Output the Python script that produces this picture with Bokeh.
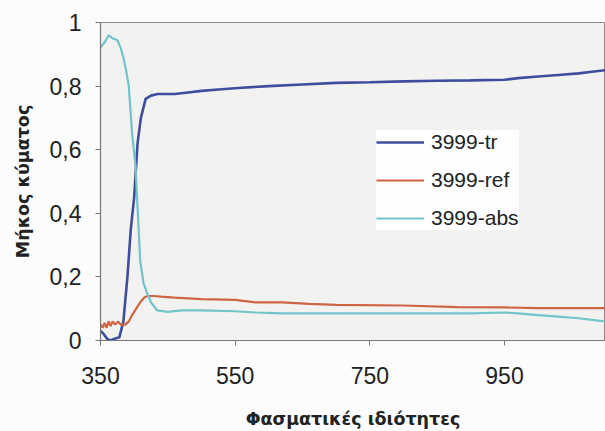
from bokeh.plotting import figure
from bokeh.models import FixedTicker, CustomJSTickFormatter, Legend, LegendItem, Range1d
from bokeh.embed import file_html
from bokeh.resources import INLINE

# ---- data ----
tr_x = [350, 355, 360, 365, 370, 378, 384, 390, 395, 400, 405, 410, 417, 425, 435, 460, 480, 500,
        530, 560, 600, 650, 700, 750, 800, 850, 900, 950, 970, 1000, 1030, 1060, 1080, 1100]
tr_y = [0.03, 0.02, 0.005, 0.0, 0.005, 0.01, 0.06, 0.2, 0.35, 0.45, 0.62, 0.7, 0.76, 0.77, 0.775,
        0.775, 0.78, 0.785, 0.79, 0.795, 0.80, 0.805, 0.81, 0.812, 0.815, 0.817, 0.818, 0.82,
        0.825, 0.83, 0.835, 0.84, 0.845, 0.85]

ref_x = [350, 353, 356, 359, 362, 365, 368, 372, 376, 380, 387, 392, 397, 403, 409, 415, 420, 430,
         440, 460, 500, 550, 580, 620, 660, 700, 800, 880, 950, 1000, 1100]
ref_y = [0.05, 0.04, 0.055, 0.04, 0.06, 0.045, 0.06, 0.05, 0.06, 0.05, 0.05, 0.06, 0.08, 0.10,
         0.12, 0.135, 0.14, 0.14, 0.138, 0.135, 0.13, 0.128, 0.12, 0.12, 0.115, 0.112, 0.11,
         0.105, 0.104, 0.102, 0.102]

abs_x = [350, 353, 357, 362, 368, 375, 380, 384, 388, 392, 397, 402, 405, 409, 414, 419, 425, 434,
         450, 470, 500, 550, 580, 620, 700, 800, 900, 950, 970, 1000, 1030, 1060, 1080, 1100]
abs_y = [0.92, 0.93, 0.94, 0.96, 0.95, 0.945, 0.92, 0.89, 0.85, 0.80, 0.65, 0.55, 0.42, 0.25,
         0.18, 0.15, 0.12, 0.095, 0.09, 0.095, 0.095, 0.092, 0.088, 0.085, 0.085, 0.085, 0.085,
         0.088, 0.085, 0.08, 0.075, 0.07, 0.065, 0.06]

series_names = ["3999-tr", "3999-ref", "3999-abs"]
x_ticks = [350, 550, 750, 950]
y_ticks = [0, 0.2, 0.4, 0.6, 0.8, 1.0]

colors = ["#3f4d9e", "#cf6445", "#72c4c9"]
FONT = "Liberation Sans"
LABEL_FONT = "DejaVu Sans"

p = figure(width=605, height=431, output_backend="svg", toolbar_location=None,
           x_range=Range1d(350, 1100), y_range=Range1d(0, 1),
           min_border_left=100, min_border_right=0, min_border_top=22, min_border_bottom=91)

p.background_fill_color = "#f2f3f1"
p.border_fill_color = "#fcfcfc"
p.outline_line_color = "#8a8a8a"
p.outline_line_width = 1
p.xgrid.visible = False
p.ygrid.visible = False

r_tr = p.line(tr_x, tr_y, line_color=colors[0], line_width=2.6)
r_ref = p.line(ref_x, ref_y, line_color=colors[1], line_width=2.2)
r_abs = p.line(abs_x, abs_y, line_color=colors[2], line_width=2.2)

legend = Legend(items=[LegendItem(label=series_names[0], renderers=[r_tr]),
                       LegendItem(label=series_names[1], renderers=[r_ref]),
                       LegendItem(label=series_names[2], renderers=[r_abs])],
                location=(276, 110))
legend.background_fill_color = "#ffffff"
legend.background_fill_alpha = 0.9
legend.border_line_color = None
legend.label_text_font = FONT
legend.label_text_font_size = "21px"
legend.label_text_color = "#222222"
legend.glyph_width = 48
legend.glyph_height = 20
legend.label_height = 20
legend.label_standoff = 7
legend.spacing = 14
legend.padding = 12
p.add_layout(legend, "center")

for ax in (p.xaxis[0], p.yaxis[0]):
    ax.axis_line_color = "#777777"
    ax.axis_line_width = 1.2
    ax.major_tick_line_color = "#777777"
    ax.major_tick_out = 5
    ax.major_tick_in = 0
    ax.minor_tick_line_color = None
    ax.major_label_text_font = FONT
    ax.major_label_text_font_size = "23px"
    ax.major_label_text_color = "#222222"
    ax.axis_label_text_font = LABEL_FONT
    ax.axis_label_text_font_style = "bold"
    ax.axis_label_text_font_size = "17.5px"
    ax.axis_label_text_color = "#222222"

p.xaxis[0].ticker = FixedTicker(ticks=x_ticks)
p.xaxis[0].major_label_standoff = 21
p.xaxis[0].axis_label = "Φασματικές ιδιότητες"
p.xaxis[0].axis_label_standoff = 22

p.yaxis[0].ticker = FixedTicker(ticks=y_ticks)
p.yaxis[0].formatter = CustomJSTickFormatter(
    code="if (Math.abs(tick) < 1e-9) return '0'; if (Math.abs(tick-1) < 1e-9) return '1'; return tick.toFixed(1).replace('.', ',');")
p.yaxis[0].major_label_standoff = 14
p.yaxis[0].axis_label = "Μήκος κύματος"
p.yaxis[0].axis_label_standoff = 14

open("out.html", "w").write(file_html(p, INLINE))
